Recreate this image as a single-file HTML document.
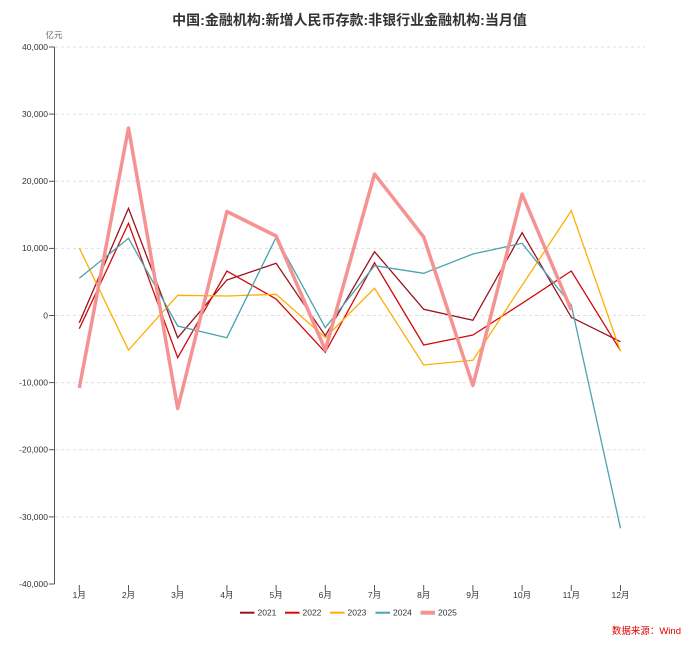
<!DOCTYPE html>
<html><head><meta charset="utf-8">
<style>
html,body{margin:0;padding:0;background:#fff;}
svg{display:block;}
text{font-family:"Liberation Sans","Noto Sans CJK SC",sans-serif;}
</style></head>
<body>
<svg width="699" height="645" viewBox="0 0 699 645" xmlns="http://www.w3.org/2000/svg">
<rect width="699" height="645" fill="#fff"/>
<text x="349.5" y="25" text-anchor="middle" font-size="14" font-weight="bold" fill="#333">中国:金融机构:新增人民币存款:非银行业金融机构:当月值</text>
<text x="54" y="38" text-anchor="middle" font-size="8.5" fill="#666">亿元</text>
<g stroke="#ddd" stroke-width="1" stroke-dasharray="3,3">
<line x1="55" y1="47" x2="645" y2="47"/>
<line x1="55" y1="114.1" x2="645" y2="114.1"/>
<line x1="55" y1="181.3" x2="645" y2="181.3"/>
<line x1="55" y1="248.4" x2="645" y2="248.4"/>
<line x1="55" y1="315.5" x2="645" y2="315.5"/>
<line x1="55" y1="382.6" x2="645" y2="382.6"/>
<line x1="55" y1="449.7" x2="645" y2="449.7"/>
<line x1="55" y1="516.9" x2="645" y2="516.9"/>
</g>
<line x1="54.5" y1="47" x2="54.5" y2="584" stroke="#555" stroke-width="1"/>
<g stroke="#555" stroke-width="1">
<line x1="49" y1="47" x2="54.5" y2="47"/>
<line x1="49" y1="114.1" x2="54.5" y2="114.1"/>
<line x1="49" y1="181.3" x2="54.5" y2="181.3"/>
<line x1="49" y1="248.4" x2="54.5" y2="248.4"/>
<line x1="49" y1="315.5" x2="54.5" y2="315.5"/>
<line x1="49" y1="382.6" x2="54.5" y2="382.6"/>
<line x1="49" y1="449.7" x2="54.5" y2="449.7"/>
<line x1="49" y1="516.9" x2="54.5" y2="516.9"/>
<line x1="49" y1="584" x2="54.5" y2="584"/>
</g>
<g font-size="8.5" fill="#333" text-anchor="end">
<text x="48" y="50">40,000</text>
<text x="48" y="117">30,000</text>
<text x="48" y="184">20,000</text>
<text x="48" y="251">10,000</text>
<text x="48" y="318.5">0</text>
<text x="48" y="385.5">-10,000</text>
<text x="48" y="452.5">-20,000</text>
<text x="48" y="520">-30,000</text>
<text x="48" y="587">-40,000</text>
</g>
<g stroke="#555" stroke-width="1">
<line x1="79.3" y1="585" x2="79.3" y2="591"/>
<line x1="128.5" y1="585" x2="128.5" y2="591"/>
<line x1="177.7" y1="585" x2="177.7" y2="591"/>
<line x1="226.9" y1="585" x2="226.9" y2="591"/>
<line x1="276.1" y1="585" x2="276.1" y2="591"/>
<line x1="325.3" y1="585" x2="325.3" y2="591"/>
<line x1="374.5" y1="585" x2="374.5" y2="591"/>
<line x1="423.7" y1="585" x2="423.7" y2="591"/>
<line x1="472.9" y1="585" x2="472.9" y2="591"/>
<line x1="522.1" y1="585" x2="522.1" y2="591"/>
<line x1="571.3" y1="585" x2="571.3" y2="591"/>
<line x1="620.5" y1="585" x2="620.5" y2="591"/>
</g>
<g font-size="8.5" fill="#333" text-anchor="middle">
<text x="79.3" y="598">1月</text>
<text x="128.5" y="598">2月</text>
<text x="177.7" y="598">3月</text>
<text x="226.9" y="598">4月</text>
<text x="276.1" y="598">5月</text>
<text x="325.3" y="598">6月</text>
<text x="374.5" y="598">7月</text>
<text x="423.7" y="598">8月</text>
<text x="472.9" y="598">9月</text>
<text x="522.1" y="598">10月</text>
<text x="571.3" y="598">11月</text>
<text x="620.5" y="598">12月</text>
</g>
<g fill="none" stroke-width="1.3" stroke-linejoin="miter">
<polyline stroke="#9b111e" points="79.3,322.7 128.5,208.3 177.7,337.7 226.9,280 276.1,263.3 325.3,335.7 374.5,251.7 423.7,309.3 472.9,320.3 522.1,232.7 571.3,317.3 620.5,341.7"/>
<polyline stroke="#d20a0a" points="79.3,328.7 128.5,223.3 177.7,357.7 226.9,271 276.1,299 325.3,352.3 374.5,262.7 423.7,345 472.9,335 522.1,303.3 571.3,271 620.5,350.7"/>
<polyline stroke="#ffae00" points="79.3,248 128.5,350 177.7,295.3 226.9,296 276.1,294.3 325.3,337.7 374.5,288.3 423.7,365 472.9,360.3 522.1,285.3 571.3,210.7 620.5,351.3"/>
<polyline stroke="#4aa3b0" points="79.3,278.3 128.5,238.3 177.7,326 226.9,337.7 276.1,237.3 325.3,327.7 374.5,265.7 423.7,273.3 472.9,254 522.1,243.3 571.3,305 620.5,528.3"/>
<polyline stroke="#f59393" stroke-width="3.5" stroke-linejoin="round" points="79.3,388 128.5,128 177.7,408.5 226.9,211.5 276.1,236 325.3,350 374.5,174 423.7,237 472.9,385.5 522.1,194 571.3,310"/>
</g>
<g font-size="8.5" fill="#333">
<line x1="240" y1="612.7" x2="254.5" y2="612.7" stroke="#9b111e" stroke-width="2"/>
<text x="257.5" y="615.7">2021</text>
<line x1="285" y1="612.7" x2="299.5" y2="612.7" stroke="#d20a0a" stroke-width="2"/>
<text x="302.5" y="615.7">2022</text>
<line x1="330" y1="612.7" x2="344.5" y2="612.7" stroke="#ffae00" stroke-width="2"/>
<text x="347.5" y="615.7">2023</text>
<line x1="375.5" y1="612.7" x2="390" y2="612.7" stroke="#4aa3b0" stroke-width="2"/>
<text x="393" y="615.7">2024</text>
<line x1="420.5" y1="612.7" x2="435" y2="612.7" stroke="#f59393" stroke-width="4"/>
<text x="438" y="615.7">2025</text>
</g>
<text x="681" y="634" text-anchor="end" font-size="9.5" fill="#e00000">数据来源：Wind</text>
</svg>
</body></html>
